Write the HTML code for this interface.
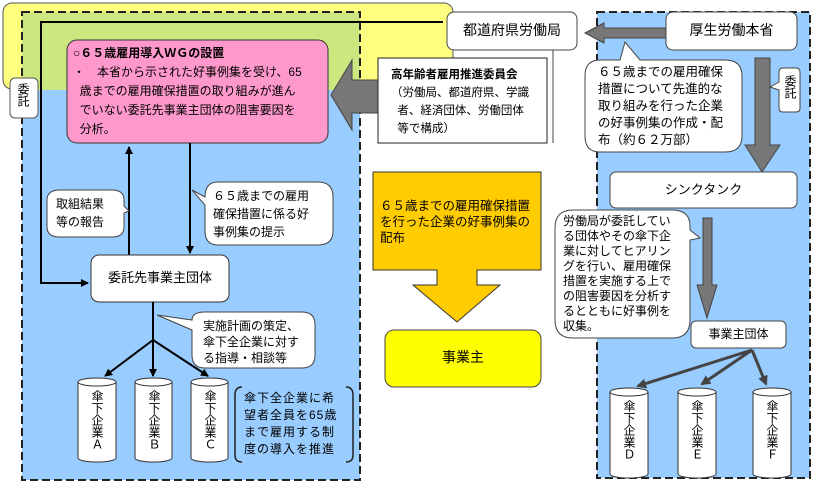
<!DOCTYPE html>
<html><head><meta charset="utf-8"><style>
body{margin:0;width:817px;height:485px;background:#fff;position:relative;overflow:hidden;font-family:"Liberation Sans","Noto Sans CJK JP",sans-serif;}
.t{position:absolute;font-size:12px;line-height:16px;color:#000;white-space:nowrap;}
.v{position:absolute;writing-mode:vertical-rl;text-orientation:upright;font-size:12px;line-height:14px;text-align:center;}
</style></head><body>
<svg width="817" height="485" style="position:absolute;left:0;top:0">
<defs><marker id="a" markerWidth="8" markerHeight="8" refX="7" refY="4" orient="auto" markerUnits="userSpaceOnUse"><path d="M0,0 L8,4 L0,8 z" fill="#000"/></marker>
<marker id="g" markerWidth="10" markerHeight="10" refX="8" refY="5" orient="auto" markerUnits="userSpaceOnUse"><path d="M0,0 L10,5 L0,10 z" fill="#444"/></marker></defs>
<rect x="3" y="3" width="450" height="86" rx="9" fill="#FFFF80" stroke="#555" stroke-width="1"/>
<rect x="22" y="90" width="338" height="390" fill="#99CCFF"/>
<rect x="22" y="12" width="338" height="78" fill="#CCE680"/>
<rect x="22" y="12" width="338" height="468" fill="none" stroke="#222" stroke-width="2" stroke-dasharray="8,4"/>
<rect x="597" y="12" width="213" height="466" fill="#99CCFF" stroke="#222" stroke-width="2" stroke-dasharray="8,4"/>
<polyline points="443,22 41,22 41,283 88,283" fill="none" stroke="#000" stroke-width="2" marker-end="url(#a)"/>
<rect x="67" y="40" width="261" height="103" rx="10" fill="#FF99CC" stroke="#333"/>
<polygon points="331,95 352,60 352,80 380,80 380,113 352,113 352,130" fill="#777" stroke="#444"/>
<rect x="10" y="78" width="28" height="40" rx="5" fill="#fff" stroke="#555"/>
<rect x="447" y="12" width="130" height="38" rx="7" fill="#fff" stroke="#444"/>
<line x1="553" y1="50" x2="553" y2="143" stroke="#444"/>
<rect x="378" y="58" width="169" height="85" fill="#fff" stroke="#222"/>
<polygon points="585,33 604,23 604,28 666,28 666,38 604,38 604,43" fill="#777" stroke="#444"/>
<path d="M600,60 L620,60 L625,42 L640,60 L725,60 Q742,60 742,76 L742,136 Q742,152 725,152 L600,152 Q585,152 585,136 L585,76 Q585,60 600,60 Z" fill="#fff" stroke="#444"/>
<rect x="666" y="12" width="131" height="38" rx="7" fill="#fff" stroke="#444"/>
<polygon points="755,58 770,58 770,145 780,145 762,172 745,145 755,145" fill="#777" stroke="#444"/>
<path d="M783,68 L796,68 Q800,68 800,72 L800,108 Q800,112 796,112 L783,112 Q779,112 779,108 L779,90 L770,87 L779,82 L779,72 Q779,68 783,68Z" fill="#fff" stroke="#444"/>
<rect x="610" y="172" width="187" height="36" rx="6" fill="#fff" stroke="#444"/>
<path d="M573,210 L672,210 Q690,210 690,226 L690,230 L700,238 L690,240 L690,320 Q690,338 672,338 L573,338 Q555,338 555,320 L555,228 Q555,210 573,210Z" fill="#fff" stroke="#444"/>
<polygon points="703,218 712,218 712,285 717,285 707,318 697,285 703,285" fill="#777" stroke="#444"/>
<rect x="691" y="321" width="95" height="27" rx="5" fill="#fff" stroke="#444"/>
<g stroke="#444" stroke-width="3" fill="none">
<line x1="752" y1="350" x2="638" y2="386" marker-end="url(#g)"/><line x1="752" y1="350" x2="702" y2="384" marker-end="url(#g)"/><line x1="752" y1="350" x2="766" y2="384" marker-end="url(#g)"/></g>
<polygon points="373,172 541,172 541,270 477,270 477,285 500,285 457,322 413,285 437,285 437,270 373,270" fill="#FFCC00" stroke="#333"/>
<rect x="385" y="330" width="156" height="57" rx="9" fill="#FFFF00" stroke="#444"/>
<line x1="129" y1="255" x2="129" y2="147" stroke="#000" stroke-width="2" marker-end="url(#a)"/>
<line x1="190" y1="143" x2="190" y2="253" stroke="#000" stroke-width="2" marker-end="url(#a)"/>
<path d="M60,190 L112,190 Q124,190 124,200 L124,206 L129,211 L124,213 L124,227 Q124,237 112,237 L60,237 Q47,237 47,227 L47,200 Q47,190 60,190Z" fill="#fff" stroke="#444"/>
<path d="M218,182 L318,182 Q333,182 333,197 L333,231 Q333,245 318,245 L218,245 Q205,245 205,231 L205,205 L192,190 L205,197 Q205,182 218,182Z" fill="#fff" stroke="#444"/>
<rect x="91" y="255" width="138" height="47" rx="8" fill="#fff" stroke="#333"/>
<g stroke="#000" stroke-width="2" fill="none">
<line x1="153" y1="302" x2="153" y2="340"/>
<line x1="153" y1="340" x2="105" y2="376" marker-end="url(#a)"/>
<line x1="153" y1="340" x2="153" y2="376" marker-end="url(#a)"/>
<line x1="153" y1="340" x2="208" y2="376" marker-end="url(#a)"/></g>
<path d="M205,312 L302,312 Q315,312 315,325 L315,355 Q315,368 302,368 L205,368 Q192,368 192,355 L192,330 L157,315 L192,320 Q192,312 205,312Z" fill="#fff" stroke="#444"/>
<path d="M242,387 Q235,387 235,395 L235,455 Q235,462 242,462 M346,387 Q353,387 353,395 L353,455 Q353,462 346,462" fill="none" stroke="#222" stroke-width="1.5"/>
<g fill="#fff" stroke="#333">
<path d="M78,382 L78,458 A19,4 0 0 0 116,458 L116,382 Z"/><ellipse cx="97" cy="382" rx="19" ry="4"/>
<path d="M135,382 L135,458 A18.5,4 0 0 0 172,458 L172,382 Z"/><ellipse cx="153.5" cy="382" rx="18.5" ry="4"/>
<path d="M191,382 L191,458 A18.5,4 0 0 0 228,458 L228,382 Z"/><ellipse cx="209.5" cy="382" rx="18.5" ry="4"/>
<path d="M610,392 L610,474 A19,4 0 0 0 648,474 L648,392 Z"/><ellipse cx="629" cy="392" rx="19" ry="4"/>
<path d="M678,392 L678,474 A19,4 0 0 0 716,474 L716,392 Z"/><ellipse cx="697" cy="392" rx="19" ry="4"/>
<path d="M753,392 L753,474 A19,4 0 0 0 791,474 L791,392 Z"/><ellipse cx="772" cy="392" rx="19" ry="4"/>
</g>
</svg>
<div class="t" style="left:73px;top:44px;font-size:12px;line-height:19px"><b>○６５歳雇用導入ＷＧの設置</b><br>・　本省から示された好事例集を受け、65<br>&nbsp;&nbsp;歳までの雇用確保措置の取り組みが進ん<br>&nbsp;&nbsp;でいない委託先事業主団体の阻害要因を<br>&nbsp;&nbsp;分析。</div>
<div class="v" style="left:16px;top:83px">委託</div>
<div class="t" style="left:447px;top:22px;width:130px;text-align:center;font-size:14px">都道府県労働局</div>
<div class="t" style="left:391px;top:66px;font-size:11.5px;line-height:18px"><b>高年齢者雇用推進委員会</b><br>（労働局、都道府県、学識<br>&nbsp;&nbsp;者、経済団体、労働団体<br>&nbsp;&nbsp;等で構成）</div>
<div class="t" style="left:666px;top:22px;width:131px;text-align:center;font-size:14px">厚生労働本省</div>
<div class="t" style="left:598px;top:64px;font-size:12.5px;line-height:17px">６５歳までの雇用確保<br>措置について先進的な<br>取り組みを行った企業<br>の好事例集の作成・配<br>布（約６２万部）</div>
<div class="v" style="left:783px;top:75px">委託</div>
<div class="t" style="left:610px;top:182px;width:187px;text-align:center;font-size:13px">シンクタンク</div>
<div class="t" style="left:563px;top:214px;font-size:12px;line-height:15px">労働局が委託してい<br>る団体やその傘下企<br>業に対してヒアリン<br>グを行い、雇用確保<br>措置を実施する上で<br>の阻害要因を分析す<br>るとともに好事例を<br>収集。</div>
<div class="t" style="left:691px;top:326px;width:95px;text-align:center">事業主団体</div>
<div class="t" style="left:380px;top:198px;font-size:12.5px;line-height:16px">６５歳までの雇用確保措置<br>を行った企業の好事例集の<br>配布</div>
<div class="t" style="left:385px;top:349px;width:156px;text-align:center;font-size:14px">事業主</div>
<div class="t" style="left:56px;top:195px;line-height:18px">取組結果<br>等の報告</div>
<div class="t" style="left:213px;top:187px;line-height:18px">６５歳までの雇用<br>確保措置に係る好<br>事例集の提示</div>
<div class="t" style="left:91px;top:270px;width:138px;text-align:center;font-size:13px">委託先事業主団体</div>
<div class="t" style="left:203px;top:318px;line-height:16px">実施計画の策定、<br>傘下全企業に対す<br>る指導・相談等</div>
<div class="t" style="left:244px;top:390px;line-height:17px;letter-spacing:1px">傘下全企業に希<br>望者全員を65歳<br>まで雇用する制<br>度の導入を推進</div>
<div class="v" style="left:90px;top:390px">傘下企業Ａ</div>
<div class="v" style="left:147px;top:390px">傘下企業Ｂ</div>
<div class="v" style="left:203px;top:390px">傘下企業Ｃ</div>
<div class="v" style="left:622px;top:400px">傘下企業Ｄ</div>
<div class="v" style="left:690px;top:400px">傘下企業Ｅ</div>
<div class="v" style="left:765px;top:400px">傘下企業Ｆ</div>
</body></html>
